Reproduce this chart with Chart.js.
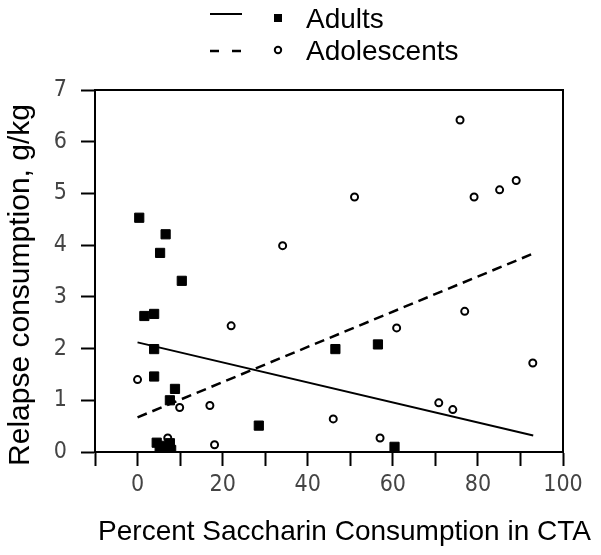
<!DOCTYPE html>
<html>
<head>
<meta charset="utf-8">
<script src="https://cdn.jsdelivr.net/npm/chart.js@4"></script>
<style>
  html, body { margin: 0; padding: 0; background: #fff; }
  canvas { display: block; }
</style>
</head>
<body>
<canvas id="chart" width="601" height="555"></canvas>
<script>
// Adults (filled squares)
const adultX = [0.4, 6.6, 5.3, 10.4, 1.6, 3.9, 3.9, 3.9, 8.8, 7.6, 28.5, 46.5, 56.5, 60.4, 4.5, 5.2, 6.2, 6.8, 7.6, 7.9]
const adultY = [4.53, 4.21, 3.85, 3.31, 2.63, 2.67, 1.99, 1.46, 1.22, 1.00, 0.51, 1.99, 2.08, 0.10, 0.18, 0.05, 0.12, 0.02, 0.17, 0.04]

// Adolescents (open circles)
const adolX = [0, 7.1, 9.9, 17.0, 18.1, 22.0, 34.1, 46.0, 51.0, 57.0, 60.9, 70.8, 74.1, 75.8, 76.9, 79.1, 85.1, 89.0, 92.9]
const adolY = [1.40, 0.27, 0.86, 0.90, 0.14, 2.44, 3.99, 0.64, 4.93, 0.27, 2.40, 0.95, 0.82, 6.42, 2.72, 4.93, 5.07, 5.25, 1.72]

// fitted lines, end points
const adultFitX = [0, 93]
const adultFitY = [2.12, 0.32]
const adolFitX = [0, 92.5]
const adolFitY = [0.67, 3.82]

const legendLabels = ["Adults", "Adolescents"]
const xTitle = "Percent Saccharin Consumption in CTA"
const yTitle = "Relapse consumption, g/kg"
const xTickLabels = [0, 20, 40, 60, 80, 100]

const toPoints = (xs, ys) => xs.map((x, i) => ({ x: x, y: ys[i] }))

const textFont = "'Liberation Sans', Arial, sans-serif"
const tickFont = "'Liberation Sans Narrow', 'DejaVu Sans Condensed', sans-serif"

// frame, axis titles and the two-symbol legend
const decorations = {
  id: "decorations",
  afterDraw(chart) {
    const ctx = chart.ctx
    const area = chart.chartArea
    ctx.save()
    ctx.strokeStyle = "#000"
    ctx.fillStyle = "#000"

    // top and right sides of the box
    ctx.lineWidth = 2
    ctx.beginPath()
    ctx.moveTo(area.left, area.top)
    ctx.lineTo(area.right, area.top)
    ctx.lineTo(area.right, area.bottom)
    ctx.stroke()

    // axis titles
    ctx.font = "28px " + textFont
    ctx.textAlign = "center"
    ctx.textBaseline = "alphabetic"
    ctx.fillText(xTitle, 344.5, 540)

    ctx.save()
    ctx.translate(29, 285)
    ctx.rotate(-Math.PI / 2)
    ctx.font = "30px " + textFont
    ctx.fillText(yTitle, 0, 0)
    ctx.restore()

    // legend
    ctx.lineWidth = 2
    ctx.beginPath()
    ctx.moveTo(210, 14)
    ctx.lineTo(242, 14)
    ctx.stroke()
    ctx.fillRect(274, 14, 8, 8)

    ctx.setLineDash([9, 13])
    ctx.lineWidth = 2.5
    ctx.beginPath()
    ctx.moveTo(210, 51)
    ctx.lineTo(242, 51)
    ctx.stroke()
    ctx.setLineDash([])
    ctx.lineWidth = 2
    ctx.beginPath()
    ctx.arc(278, 50, 3.2, 0, Math.PI * 2)
    ctx.stroke()

    ctx.font = "28px " + textFont
    ctx.textAlign = "left"
    ctx.fillText(legendLabels[0], 306, 28)
    ctx.fillText(legendLabels[1], 306, 60)
    ctx.restore()
  }
}

const axisGrid = {
  drawOnChartArea: false,
  drawTicks: true,
  tickLength: 14,
  tickWidth: 2,
  tickColor: "#000"
}

new Chart(document.getElementById("chart"), {
  type: "scatter",
  data: {
    datasets: [
      {
        label: legendLabels[0],
        data: toPoints(adultX, adultY),
        pointStyle: "rect",
        pointRadius: 6.5,
        pointBackgroundColor: "#000",
        pointBorderColor: "#000",
        pointBorderWidth: 1,
        order: 0
      },
      {
        label: legendLabels[1],
        data: toPoints(adolX, adolY),
        pointStyle: "circle",
        pointRadius: 3.5,
        pointBackgroundColor: "#fff",
        pointBorderColor: "#000",
        pointBorderWidth: 2,
        order: 0
      },
      {
        label: legendLabels[0] + " fit",
        data: toPoints(adultFitX, adultFitY),
        showLine: true,
        borderColor: "#000",
        borderWidth: 2,
        pointRadius: 0,
        order: 1
      },
      {
        label: legendLabels[1] + " fit",
        data: toPoints(adolFitX, adolFitY),
        showLine: true,
        borderColor: "#000",
        borderWidth: 2.5,
        borderDash: [10, 6],
        pointRadius: 0,
        order: 1
      }
    ]
  },
  options: {
    responsive: false,
    animation: false,
    devicePixelRatio: 1,
    layout: {
      padding: { top: 90, right: 38, bottom: 0, left: 0 }
    },
    plugins: {
      legend: { display: false },
      tooltip: { enabled: false }
    },
    scales: {
      x: {
        type: "linear",
        min: -10,
        max: 100,
        afterFit: function(scale) { scale.height = 103 },
        grid: axisGrid,
        border: { display: true, color: "#000", width: 2 },
        ticks: {
          stepSize: 10,
          autoSkip: false,
          maxRotation: 0,
          padding: 5,
          color: "#444",
          font: { size: 23, family: tickFont },
          callback: function(value) {
            return xTickLabels.includes(value) ? String(value) : ""
          }
        }
      },
      y: {
        type: "linear",
        min: 0,
        max: 7,
        afterFit: function(scale) { scale.width = 95 },
        grid: axisGrid,
        border: { display: true, color: "#000", width: 2 },
        ticks: {
          stepSize: 1,
          padding: 14,
          color: "#444",
          font: { size: 23, family: tickFont }
        }
      }
    }
  },
  plugins: [decorations]
})
</script>
</body>
</html>
